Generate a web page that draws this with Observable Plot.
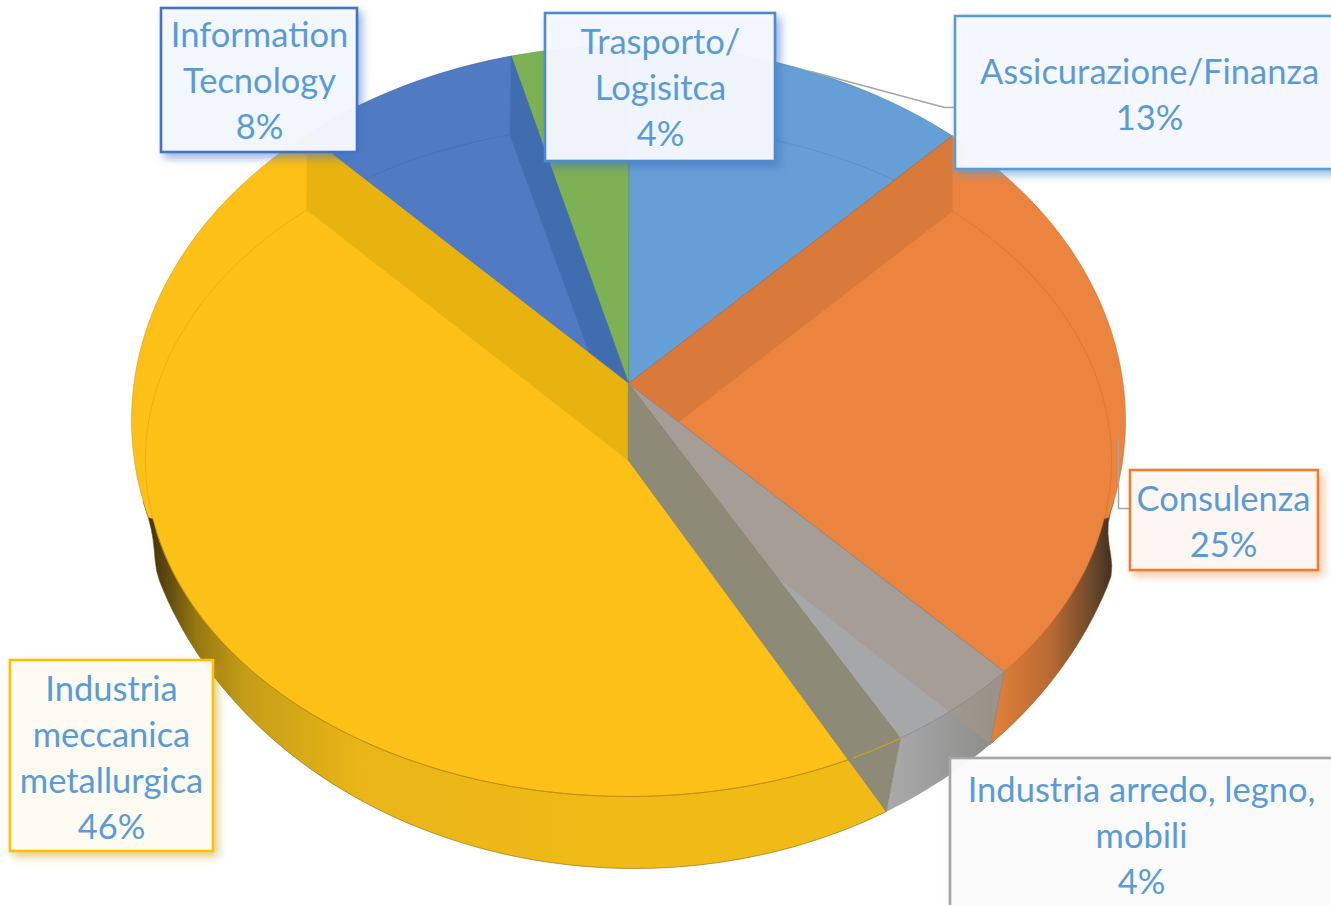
<!DOCTYPE html>
<html><head><meta charset="utf-8">
<style>html,body{margin:0;padding:0;background:#fff;overflow:hidden}svg{display:block}</style>
<script src="https://cdn.jsdelivr.net/npm/d3@7"></script>
<script src="https://cdn.jsdelivr.net/npm/@observablehq/plot@0.6"></script>
</head><body><div id="chart"></div>
<script>
// --- data
const sliceNames = ["Assicurazione/Finanza","Consulenza","Industria arredo, legno,\nmobili","Industria\nmeccanica\nmetallurgica","Information\nTecnology","Trasporto/\nLogisitca"];
const shares = [12.9,24.5,4.2,45.6,8.4,4.4];   // unrounded estimates; labels show the rounded value
// --- colours
const faceColors = ["#659fd5","#ea843f","#a5a7a9","#fcc017","#507bc2","#7eb153"];
const wallColors = ["#5a94cc","#d97a3b","#8d8a78","#e8b30f","#3f6db0","#6ea044"];
const borderColors = ["#5b9bd5","#ed7d31","#a5a5a5","#ffc000","#4472c4","#4f8bc9"];
const boxTints = ["#f9fbff","#fdf9f6","#fcfcfc","#fdfcf7","#f8faff","#f8faff"];
const textColor = "#5b9bd5";
// --- label box layout [x1,x2,y1,y2]
const boxLayout = [[955,1345,16,169],[1130,1318,470,570],[950,1345,758,925],[10,213,660,851],[161,357,8,152],[545,775,13,161]];
const textAnchorX = [1149,1223,1141,111,259,660];
const textAnchorY = [91.5,518.5,832.5,754.5,78,85];
// --- projection of the tilted pie
const rad = d => d*Math.PI/180;
const apexTop = {x:628,y:383}, apexLow = {x:628,y:460};
const ell = (cx,cy,rx,ry) => th => ({x:cx+rx*Math.sin(rad(th)), y:cy-ry*Math.cos(rad(th))});
const upperRim = ell(628,420,497,375), lowerFace = ell(628,460,483,336), bottomRim = ell(634,450,500,418);
const seen = t => t - 8*Math.sin(rad(t));          // rim angle for a true angle
const seenFloor = t => t - 6*Math.sin(rad(t));     // recessed arc angle
const range = (a,b) => { const o=[]; for(let v=a; v<b; v+=1.5) o.push(v); o.push(b); return o; };
// outer edge of the side wall: merges smoothly into the upper rim where the wall starts
function sideEdge(th){
  const p = bottomRim(th);
  const s = Math.sign(p.x-628);
  const xE = 628 + s*497*Math.sqrt(Math.max(0,1-((p.y-420)/375)**2));
  const u = Math.min(1,Math.max(0,(p.y-510)/70)); const w = u*u*(3-2*u);
  return {x:xE+w*(p.x-xE), y:p.y};
}
function faceArc(a,b){
  let p=[];
  if(a<105) p=p.concat(range(a,Math.min(b,105)).map(upperRim));
  if(b>100 && a<260) p=p.concat(range(Math.max(a,100),Math.min(b,260)).map(lowerFace));
  if(b>255) p=p.concat(range(Math.max(a,255),b).map(upperRim));
  return p;
}
const cum = d3.cumsum(shares); const T = [0,...cum].map(v=>v*3.6);
const poly = (pts,o) => Plot.line(pts,{x:"x",y:"y",curve:"linear-closed",stroke:"none",...o});
const path = (pts,o) => Plot.line(pts,{x:"x",y:"y",fill:"none",...o});
const thin = c => ({stroke:c,strokeWidth:0.8,strokeOpacity:0.7});

const [t0,t1,t2,t3,t4,t5,t6] = T;
const marks = [];
marks.push(() => {
  const d = d3.create("svg:defs");
  d.html(`
  <linearGradient id="sideY" gradientUnits="userSpaceOnUse" x1="135" x2="628" y1="0" y2="0">
   <stop offset="0" stop-color="#2e2306"/><stop offset="0.06" stop-color="#5a4610"/><stop offset="0.12" stop-color="#94760f"/>
   <stop offset="0.22" stop-color="#c49d17"/><stop offset="0.45" stop-color="#e9b518"/><stop offset="1" stop-color="#f1bb17"/></linearGradient>
  <linearGradient id="sideO" gradientUnits="userSpaceOnUse" x1="995" x2="1118" y1="0" y2="0">
   <stop offset="0" stop-color="#e07f38"/><stop offset="0.45" stop-color="#b86a32"/><stop offset="0.78" stop-color="#6e4a2c"/><stop offset="1" stop-color="#33261a"/></linearGradient>
  <linearGradient id="sideG" gradientUnits="userSpaceOnUse" x1="891" x2="995" y1="0" y2="0">
   <stop offset="0" stop-color="#a9a9a9"/><stop offset="1" stop-color="#8c8c8b"/></linearGradient>`);
  return d.node();
});
// side surfaces
marks.push(poly([apexTop,...range(97,t2).map(sideEdge)],{fill:"url(#sideO)",...thin("#8a4a1c")}));
marks.push(poly([apexTop,...range(t3,263).map(sideEdge)],{fill:"url(#sideY)",...thin("#7a5c08")}));
// faces
marks.push(poly([apexTop,...faceArc(seen(t0),seen(t1))],{fill:faceColors[0],...thin("#3f78b5")}));
marks.push(poly([apexTop,...faceArc(seen(t1),seen(t2))],{fill:faceColors[1],stroke:"#c96f30",strokeWidth:0.8,strokeOpacity:0.7}));
marks.push(poly([apexTop,...faceArc(seen(t3),seen(t4))],{fill:faceColors[3],stroke:"#b8890c",strokeWidth:0.7,strokeOpacity:0.6}));
marks.push(poly([apexTop,...faceArc(seen(t4),seen(t5))],{fill:faceColors[4],...thin("#2f5597")}));
marks.push(poly([apexTop,...faceArc(seen(t5),360)],{fill:faceColors[5],...thin("#5c8a37")}));
// faint recessed arcs
const faint = (a,b,c) => path(range(a,b).map(lowerFace),{stroke:c,strokeWidth:0.8,strokeOpacity:0.7});
marks.push(faint(seenFloor(0),seenFloor(t1),"#4f88bf"));
marks.push(faint(seenFloor(t1),100,"#c96f30"));
marks.push(faint(seenFloor(t4),seenFloor(t5),"#3f69ad"));
marks.push(faint(seenFloor(t5),360,"#66963f"));
marks.push(faint(260,seenFloor(t4),"#d9a30f"));
marks.push(path(range(seen(t3)+6.5,258).map(lowerFace),{stroke:"#bf8e0c",strokeWidth:1}));
// walls between the slices
const wall = (t,i) => poly([apexTop,upperRim(seen(t)),lowerFace(seenFloor(t)),apexLow],{fill:wallColors[i],...thin(wallColors[i])});
marks.push(wall(t1,1));
marks.push(wall(t5,4));
marks.push(wall(t4,3));
// grey slice
marks.push(poly([apexTop,...faceArc(seen(t2),seen(t3))],{fill:"#a5a7a9"}));
marks.push(poly([...faceArc(seen(t2),seen(t3)),...range(t2,t3).reverse().map(bottomRim)],{fill:"url(#sideG)"}));
marks.push(poly([apexTop,lowerFace(seen(t2)),bottomRim(t2),apexLow],{fill:"#a59688",fillOpacity:0.58}));
marks.push(path(faceArc(seen(t2),seen(t3)),{stroke:"#8e8c88",strokeWidth:1}));
marks.push(poly([apexTop,lowerFace(seen(t3)),bottomRim(t3),apexLow],{fill:wallColors[2],...thin("#80806f")}));
marks.push(path(range(seen(t3),seen(t3)+6.5).map(lowerFace),{stroke:"#c6a020",strokeWidth:1.4}));
marks.push(path([apexTop,lowerFace(seen(t2))],{stroke:"#8f8a84",strokeWidth:1}));
marks.push(path([lowerFace(seen(t2)),bottomRim(t2)],{stroke:"#8f8a84",strokeWidth:1}));
marks.push(path([apexTop,upperRim(seen(t1))],{stroke:"#7d7468",strokeWidth:0.8,strokeOpacity:.7}));
// leader lines
const leaderA = [upperRim(seen(t1)/1.9),{x:944,y:107},{x:955,y:107}];
const leaderB = [{x:1118,y:440},{x:1118,y:508},{x:1130,y:508}];
marks.push(path(leaderA,{stroke:"#a5a5a5",strokeWidth:1.5}));
marks.push(path(leaderB,{stroke:"#a5a5a5",strokeWidth:1.5}));
// label boxes and text
sliceNames.forEach((n,i)=>{
  const [a,b,c,e] = boxLayout[i];
  marks.push(Plot.rect([{a,b,c,e}],{x1:"a",x2:"b",y1:"c",y2:"e",fill:boxTints[i],fillOpacity:0.95,stroke:borderColors[i],strokeWidth:2.6}));
});
const labels = sliceNames.map((n,i)=>({t:`${n}\n${Math.round(shares[i])}%`,x:textAnchorX[i],y:textAnchorY[i]}));
marks.push(Plot.text(labels,{x:"x",y:"y",text:"t",fill:textColor,fontSize:34.5,lineHeight:1.333,fontFamily:"Lato",textAnchor:"middle",lineAnchor:"middle"}));

const chart = Plot.plot({width:1331,height:905,margin:0,
  x:{domain:[0,1331],range:[0,1331],axis:null},
  y:{domain:[0,905],range:[0,905],axis:null},
  style:{background:"#fff"},marks});
document.getElementById("chart").append(chart);
const shadow = ["rgba(91,155,213,.65)","rgba(237,125,49,.45)","rgba(165,165,165,.5)","rgba(200,160,20,.5)","rgba(68,114,196,.55)","rgba(68,114,196,.6)"];
const boxes = [...chart.querySelectorAll('g[aria-label="rect"]')];
shadow.forEach((s,i)=>{ if(boxes[i]) boxes[i].style.filter=`drop-shadow(4px 5px 4px ${s})`; });
</script></body></html>
